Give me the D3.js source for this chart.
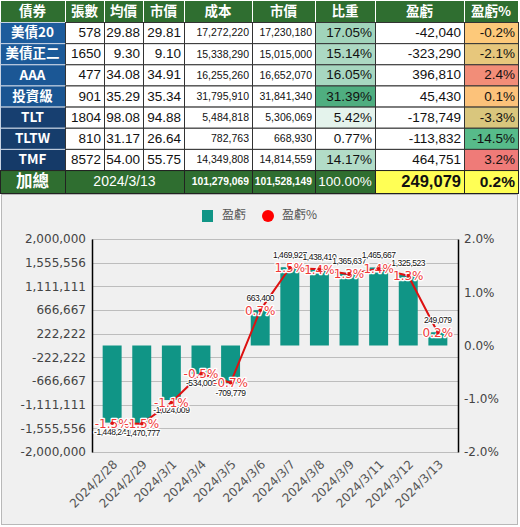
<!DOCTYPE html>
<html><head><meta charset="utf-8">
<script src="https://cdn.jsdelivr.net/npm/d3@7"></script>
<style>body{margin:0;background:#fff} svg{display:block}</style>
</head><body><svg id="c" width="520" height="527"></svg>
<script>
// ---------- table data ----------
const headers = ["債券","張數","均價","市價","成本","市價","比重","盈虧","盈虧%"];
const bonds = ["美債20","美債正二","AAA","投資級","TLT","TLTW","TMF"];
const shares = [578,1650,477,901,1804,810,8572];
const avgPrice = [29.88,9.30,34.08,35.29,98.08,31.17,54.00];
const mktPrice = [29.81,9.10,34.91,35.34,94.88,26.64,55.75];
const cost = [17272220,15338290,16255260,31795910,5484818,782763,14349808];
const mktValue = [17230180,15015000,16652070,31841340,5306069,668930,14814559];
const weight = [17.05,15.14,16.05,31.39,5.42,0.77,14.17];
const pnl = [-42040,-323290,396810,45430,-178749,-113832,464751];
const pnlPct = [-0.2,-2.1,2.4,0.1,-3.3,-14.5,3.2];
const totalLabel = "加總";
const totalDate = "2024/3/13";
const totalCost = 101279069;
const totalValue = 101528149;
const totalWeight = 100.00;
const totalPnl = 249079;
const totalPct = 0.2;

// ---------- chart data ----------
const dates = ["2024/2/28","2024/2/29","2024/3/1","2024/3/4","2024/3/5","2024/3/6","2024/3/7","2024/3/8","2024/3/9","2024/3/11","2024/3/12","2024/3/13"];
const dailyPnl = [-1448240,-1470777,-1024009,-534006,-709779,663400,1469927,1438410,1365637,1465667,1325523,249079];
const dailyPct = [-1.46,-1.47,-1.07,-0.53,-0.70,0.66,1.46,1.43,1.34,1.44,1.31,0.24];
const leftTicks = [2000000,1555556,1111111,666667,222222,-222222,-666667,-1111111,-1555556,-2000000];
const rightTicks = [2,1,0,-1,-2];
const legendNames = ["盈虧","盈虧%"];

const svg = d3.select("#c");
const loc = d3.formatLocale({decimal:".", thousands:",", grouping:[3], currency:["$",""], minus:"-"});
const fmtInt = loc.format(",");
const fmt2 = loc.format(".2f");
const fmt1 = loc.format(".1f");

// ---------- table ----------
const colX = [0,65,104,143,184,252,315,375,464,518];
const rowY = d3.range(9).map(i => i === 0 ? 0 : 22 + 21.15*(i-1));
rowY.push(193);
const tbl = svg.append("g");
const TF = "'Liberation Sans', Arial, sans-serif";
const CJK = "'Noto Sans CJK TC', 'Noto Sans CJK SC', sans-serif";

function cell(c0, c1, r, fill, stroke) {
  tbl.append("rect").attr("x", colX[c0]+0.5).attr("y", rowY[r]+0.5)
    .attr("width", colX[c1]-colX[c0]).attr("height", rowY[r+1]-rowY[r])
    .attr("fill", fill).attr("stroke", stroke).attr("stroke-width", 1);
}
function txt(c0, c1, r, s, opt) {
  const o = Object.assign({align:"end", size:13.5, color:"#111", weight:"normal", font:TF}, opt||{});
  const x = o.align === "middle" ? (colX[c0]+colX[c1])/2 : o.align === "end" ? colX[c1]-3 : colX[c0]+3;
  tbl.append("text").attr("x", x).attr("y", (rowY[r]+rowY[r+1])/2 + 1)
    .attr("dominant-baseline","middle").attr("text-anchor", o.align)
    .attr("font-family", o.font).attr("font-size", o.size).attr("font-weight", o.weight)
    .attr("fill", o.color).text(s);
}

const green = "#2f6e30";
headers.forEach((h,i) => { cell(i, i+1, 0, green, "#ffffff"); });
headers.forEach((h,i) => txt(i, i+1, 0, h, {align:"middle", color:"#fff", weight:"bold", size:13.5, font:CJK}));

const blueCol = d3.scaleLinear().domain([0,3,4,6]).range(["#1d5c9c","#1a5592","#173f70","#153a68"]);
const wCol = d3.scaleLinear().domain([d3.min(weight), d3.max(weight)]).range(["#ffffff","#4fae80"]);
const pCol = d3.scaleLinear().domain([d3.min(pnlPct), -0.2, d3.max(pnlPct)]).range(["#57bb8a","#fdc97a","#ef7b78"]);

bonds.forEach((b,i) => {
  const r = i+1;
  cell(0,1,r, blueCol(i), "#c8d4e4");
  for (let c=1;c<9;c++) {
    let f = "#ffffff";
    if (c===6) f = wCol(weight[i]);
    if (c===8) f = pCol(pnlPct[i]);
    cell(c,c+1,r,f,"#333");
  }
  txt(0,1,r,b,{align:"middle", color:"#fff", weight:"bold", size:13.5, font:CJK});
  txt(1,2,r,String(shares[i]));
  txt(2,3,r,fmt2(avgPrice[i]));
  txt(3,4,r,fmt2(mktPrice[i]));
  txt(4,5,r,fmtInt(cost[i]),{size:10.5});
  txt(5,6,r,fmtInt(mktValue[i]),{size:10.5});
  txt(6,7,r,fmt2(weight[i])+"%",{size:13.5});
  txt(7,8,r,fmtInt(pnl[i]),{size:13.5});
  txt(8,9,r,fmt1(pnlPct[i])+"%",{size:13.5});
});
// total row
const tr = 8;
cell(0,1,tr,green,"#222"); cell(1,4,tr,green,"#222"); cell(4,5,tr,green,"#222");
cell(5,6,tr,green,"#222"); cell(6,7,tr,green,"#222");
cell(7,8,tr,"#ffff55","#222"); cell(8,9,tr,"#ffff55","#222");
txt(0,1,tr,totalLabel,{align:"middle",color:"#fff",weight:"bold",size:16.5,font:CJK});
txt(1,4,tr,totalDate,{align:"middle",color:"#fff",size:14});
txt(4,5,tr,fmtInt(totalCost),{color:"#fff",size:10.3,weight:"bold"});
txt(5,6,tr,fmtInt(totalValue),{color:"#fff",size:10.3,weight:"bold"});
txt(6,7,tr,fmt2(totalWeight)+"%",{color:"#fff",size:13.5,align:"middle"});
txt(7,8,tr,fmtInt(totalPnl),{color:"#111",size:16.5,weight:"bold"});
txt(8,9,tr,fmt1(totalPct)+"%",{color:"#111",size:15.5,weight:"bold"});

// ---------- chart ----------
const CF = "'DejaVu Sans', Verdana, sans-serif";
svg.append("rect").attr("x",1.5).attr("y",194.5).attr("width",516).attr("height",330)
  .attr("fill","#f0f0f0").attr("stroke","#b8b8b8");

const L = 92, R = 458, T = 239, B = 452;
const x = d3.scaleBand().domain(dates).range([L,R]).padding(0.36);
const y = d3.scaleLinear().domain([-2000000, 2000000]).range([B,T]);
const y2 = d3.scaleLinear().domain([-2, 2]).range([B,T]);

const chart = svg.append("g");
// gridlines
chart.append("g").selectAll("line").data(leftTicks).join("line")
  .attr("x1",L).attr("x2",R).attr("y1",d=>Math.round(y(d))+0.5).attr("y2",d=>Math.round(y(d))+0.5)
  .attr("stroke","#bdbdbd").attr("stroke-width",1);

// left axis
const ax = chart.append("g").attr("transform",`translate(${L},0)`)
  .call(d3.axisLeft(y).tickValues(leftTicks).tickFormat(fmtInt).tickSize(0).tickPadding(6));
ax.select(".domain").attr("stroke","#000").attr("stroke-width",1.5);
ax.selectAll("text").attr("font-family",CF).attr("font-size",12).attr("fill","#444");

// right axis
const ax2 = chart.append("g").attr("transform",`translate(${R},0)`)
  .call(d3.axisRight(y2).tickValues(rightTicks).tickFormat(d=>fmt1(d)+"%").tickSize(0).tickPadding(6));
ax2.select(".domain").attr("stroke","#000").attr("stroke-width",1.5);
ax2.selectAll("text").attr("font-family",CF).attr("font-size",12).attr("fill","#444");

// x labels
chart.append("g").selectAll("text").data(dates).join("text")
  .attr("transform",d=>`translate(${x(d)+x.bandwidth()/2+6},${B+13}) rotate(-45)`)
  .attr("text-anchor","end").attr("font-family",CF).attr("font-size",12).attr("fill","#555")
  .text(d=>d);

// bars
const barColor = "#109586";
chart.append("g").selectAll("rect").data(dailyPnl).join("rect")
  .attr("x",(d,i)=>x(dates[i])).attr("width",x.bandwidth())
  .attr("y",d=>Math.min(y(d),y(0))).attr("height",d=>Math.abs(y(d)-y(0)))
  .attr("fill",barColor);

// line
const lineColor = "#dd1111";
chart.append("path").datum(dailyPct)
  .attr("d", d3.line().x((d,i)=>x(dates[i])+x.bandwidth()/2).y(d=>y2(d)))
  .attr("fill","none").attr("stroke",lineColor).attr("stroke-width",2);

// value labels
const vl = chart.append("g");
dailyPnl.forEach((d,i)=>{
  const cx = x(dates[i])+x.bandwidth()/2;
  const yy = d >= 0 ? y(d) - 9 : y(d) + 12.5;
  vl.append("text").attr("x",cx).attr("y",yy).attr("text-anchor","middle")
    .attr("font-family",TF).attr("font-size",8.5).attr("letter-spacing",-0.45)
    .attr("fill","#111").attr("stroke","#fff").attr("stroke-width",2.2)
    .attr("paint-order","stroke").attr("stroke-linejoin","round")
    .text(fmtInt(d));
});

// pct labels
const pl = chart.append("g");
dailyPct.forEach((d,i)=>{
  const cx = x(dates[i])+x.bandwidth()/2;
  pl.append("text").attr("x",cx).attr("y",y2(d)).attr("dy","0.36em").attr("text-anchor","middle")
    .attr("font-family",CF).attr("font-size",12).attr("fill","#f03a3a")
    .attr("stroke","#fff").attr("stroke-width",2.6).attr("paint-order","stroke")
    .attr("stroke-linejoin","round").text(fmt1(d)+"%");
});
// dots
chart.append("g").selectAll("circle").data(dailyPct).join("circle")
  .attr("cx",(d,i)=>x(dates[i])+x.bandwidth()/2).attr("cy",d=>y2(d)).attr("r",1.8)
  .attr("fill",lineColor);

// legend
const lg = svg.append("g");
lg.append("rect").attr("x",202).attr("y",210).attr("width",11).attr("height",12).attr("fill",barColor);
lg.append("text").attr("x",222).attr("y",216).attr("dominant-baseline","middle")
  .attr("font-family",CJK).attr("font-size",12).attr("fill","#555").text(legendNames[0]);
lg.append("circle").attr("cx",268).attr("cy",216).attr("r",6).attr("fill","#ff0000");
lg.append("text").attr("x",282).attr("y",216).attr("dominant-baseline","middle")
  .attr("font-family",CJK).attr("font-size",12).attr("fill","#555").text(legendNames[1]);
</script>
</body></html>
